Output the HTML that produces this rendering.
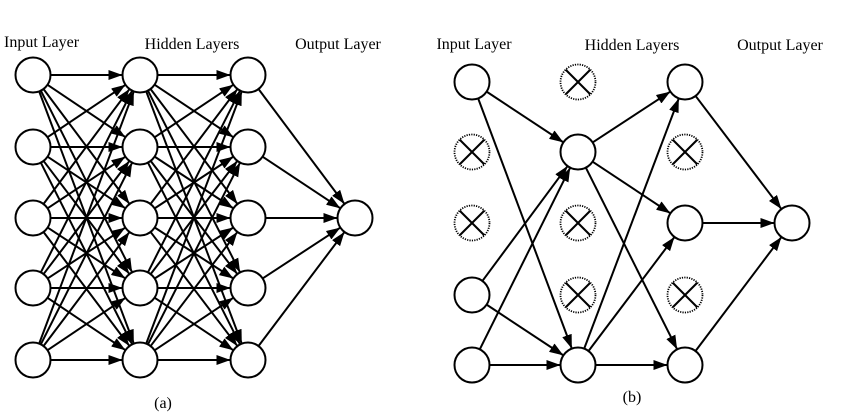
<!DOCTYPE html>
<html><head><style>
body{margin:0;background:#fff;width:850px;height:415px;overflow:hidden}
text{font-family:"Liberation Serif",serif;font-size:16px;fill:#000}
</style></head><body>
<svg id="s" width="850" height="415" xmlns="http://www.w3.org/2000/svg">
<defs><marker id="a" viewBox="0 0 10 10" refX="10" refY="5" markerWidth="6" markerHeight="6" markerUnits="userSpaceOnUse" orient="auto"><path d="M0,0L10,5L0,10z" fill="#000"/></marker>
<marker id="m" viewBox="0 0 10 10" refX="10" refY="5" markerWidth="14" markerHeight="10" markerUnits="userSpaceOnUse" orient="auto" preserveAspectRatio="none"><path d="M0,0L10,5L0,10z" fill="#000"/></marker></defs>
<text x="4" y="47">Input Layer</text>
<text x="192" y="49" text-anchor="middle">Hidden Layers</text>
<text x="338" y="49" text-anchor="middle">Output Layer</text>
<text x="163" y="408" text-anchor="middle">(a)</text>
<text x="474" y="49" text-anchor="middle">Input Layer</text>
<text x="632" y="50" text-anchor="middle">Hidden Layers</text>
<text x="780" y="50" text-anchor="middle">Output Layer</text>
<text x="632" y="402" text-anchor="middle">(b)</text>
<g id="g"></g>
</svg>
<script>
var g=document.getElementById('g'),NS='http://www.w3.org/2000/svg',R=17.5;
function el(t,a){var e=document.createElementNS(NS,t);for(var k in a)e.setAttribute(k,a[k]);g.appendChild(e);return e;}
function line(p,q){var dx=q[0]-p[0],dy=q[1]-p[1],d=Math.hypot(dx,dy),ux=dx/d,uy=dy/d;
el('line',{x1:p[0]+ux*R,y1:p[1]+uy*R,x2:q[0]-ux*R,y2:q[1]-uy*R,stroke:'#000','stroke-width':2,'marker-end':'url(#m)'});}
function node(p){el('circle',{cx:p[0],cy:p[1],r:R,fill:'#fff',stroke:'#000','stroke-width':2});}
function xnode(p){el('circle',{cx:p[0],cy:p[1],r:R,fill:'#fff',stroke:'#000','stroke-width':1.8,'stroke-dasharray':'1.2 1.2'});
var k=R*0.7;el('line',{x1:p[0]-k,y1:p[1]-k,x2:p[0]+k,y2:p[1]+k,stroke:'#000','stroke-width':2});el('line',{x1:p[0]-k,y1:p[1]+k,x2:p[0]+k,y2:p[1]-k,stroke:'#000','stroke-width':2});}
// (a)
var ya=[75,147,218,288,360],xa=[33,140,248];
var L=xa.map(function(x){return ya.map(function(y){return [x,y]})});var O=[355,218];
for(var l=0;l<2;l++)for(var i=0;i<5;i++)for(var j=0;j<5;j++)line(L[l][i],L[l+1][j]);
for(var i=0;i<5;i++)line(L[2][i],O);
L.forEach(function(c){c.forEach(node)});node(O);
// (b)
var yb=[82,152,223,295,365];
function P(x,i){return [x,yb[i]]}
var I=[P(472,0),P(472,3),P(472,4)],H1=[P(578,1),P(578,4)],H2=[P(685,0),P(685,2),P(685,4)],OB=[792,223];
I.forEach(function(a){H1.forEach(function(b){line(a,b)})});
H1.forEach(function(a){H2.forEach(function(b){line(a,b)})});
H2.forEach(function(a){line(a,OB)});
I.concat(H1,H2,[OB]).forEach(node);
[P(472,1),P(472,2),P(578,0),P(578,2),P(578,3),P(685,1),P(685,3)].forEach(xnode);
</script>
</body></html>
